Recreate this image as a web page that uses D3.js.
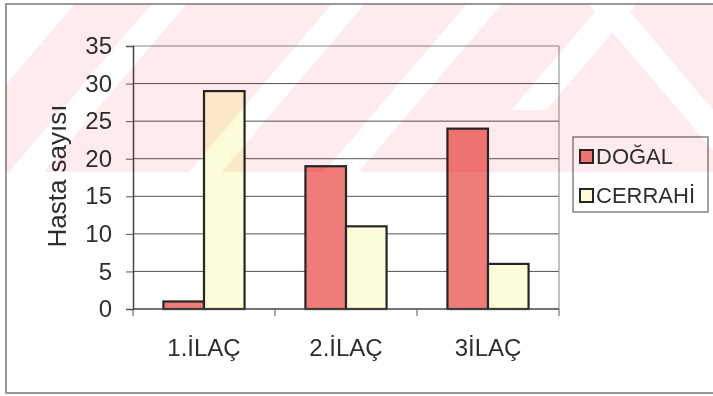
<!DOCTYPE html>
<html>
<head>
<meta charset="utf-8">
<script src="https://cdn.jsdelivr.net/npm/d3@7"></script>
<style>
  body { margin: 0; background: #fff; }
  svg { display: block; font-family: "Liberation Sans", Arial, sans-serif; }
  .wm { mix-blend-mode: multiply; }
</style>
</head>
<body>
<svg id="chart" width="713" height="396"></svg>
<script>
// chart data
const categories = ["1.İLAÇ", "2.İLAÇ", "3İLAÇ"]
const seriesNames = ["DOĞAL", "CERRAHİ"]
const dogal = [1, 19, 24]
const cerrahi = [29, 11, 6]
const yTicks = [0, 5, 10, 15, 20, 25, 30, 35]
const yTitle = "Hasta sayısı"

const colors = { "DOĞAL": "#ef7c79", "CERRAHİ": "#fcfcd8" }
const ink = "#2e2e2e"

const svg = d3.select("#chart")
const W = 713, H = 396
const plot = { left: 133, right: 559, top: 46, bottom: 309 }

// outer frame
svg.append("rect")
    .attr("x", 6).attr("y", 4)
    .attr("width", 730).attr("height", 389)
    .attr("fill", "#fff")
    .attr("stroke", "#777").attr("stroke-width", 1.5)

const x0 = d3.scaleBand().domain(categories).range([plot.left, plot.right]).padding(0)
const x1 = d3.scaleBand().domain(seriesNames).range([0, x0.bandwidth()])
    .paddingInner(0).paddingOuter(0.75)
const y = d3.scaleLinear().domain([0, 35]).range([plot.bottom, plot.top])

// gridlines
svg.append("g")
    .selectAll("line")
    .data(yTicks.filter(d => d > 0))
    .join("line")
    .attr("x1", plot.left).attr("x2", plot.right)
    .attr("y1", d => y(d)).attr("y2", d => y(d))
    .attr("stroke", d => d == 35 ? "#888" : "#555")
    .attr("stroke-width", 1)

// plot area right border
svg.append("line")
    .attr("x1", plot.right).attr("x2", plot.right)
    .attr("y1", plot.top).attr("y2", plot.bottom)
    .attr("stroke", "#888")

// bars
const rows = categories.map((c, i) => ({ cat: c, vals: [dogal[i], cerrahi[i]] }))
const groups = svg.append("g")
    .selectAll("g")
    .data(rows)
    .join("g")
    .attr("transform", d => "translate(" + x0(d.cat) + ",0)")

groups.selectAll("rect")
    .data(d => d.vals.map((v, j) => ({ key: seriesNames[j], v: v })))
    .join("rect")
    .attr("x", d => x1(d.key))
    .attr("width", x1.bandwidth())
    .attr("y", d => y(d.v))
    .attr("height", d => y(0) - y(d.v))
    .attr("fill", d => colors[d.key])
    .attr("stroke", "#262626")
    .attr("stroke-width", 2.2)

// y axis
const yAxis = svg.append("g")
    .attr("transform", "translate(" + plot.left + ",0)")
    .call(d3.axisLeft(y).tickValues(yTicks).tickSize(7).tickPadding(14))
yAxis.select(".domain").attr("stroke", "#444").attr("stroke-width", 1.5)
yAxis.selectAll(".tick line").attr("stroke", "#555")
yAxis.selectAll("text")
    .attr("fill", ink)
    .style("font-size", "24px")
    .style("font-family", "Liberation Sans, Arial, sans-serif")

// x axis
const xAxis = svg.append("g")
    .attr("transform", "translate(0," + plot.bottom + ")")
xAxis.append("line")
    .attr("x1", plot.left).attr("x2", plot.right)
    .attr("stroke", "#444").attr("stroke-width", 1.5)
xAxis.selectAll(".xt")
    .data(categories.map(c => x0(c)).concat([plot.right]))
    .join("line")
    .attr("x1", d => d).attr("x2", d => d)
    .attr("y1", 0).attr("y2", 7)
    .attr("stroke", "#555")
xAxis.selectAll(".xl")
    .data(categories)
    .join("text")
    .attr("x", d => x0(d) + x0.bandwidth() / 2)
    .attr("y", 47)
    .attr("text-anchor", "middle")
    .attr("fill", ink)
    .style("font-size", "24px")
    .text(d => d)

// y title
svg.append("text")
    .attr("transform", "translate(66,176) rotate(-90)")
    .attr("text-anchor", "middle")
    .attr("fill", ink)
    .style("font-size", "26px")
    .text(yTitle)

// legend
const legend = svg.append("g")
legend.append("rect")
    .attr("x", 573).attr("y", 137)
    .attr("width", 135).attr("height", 75)
    .attr("fill", "#fff")
    .attr("stroke", "#666").attr("stroke-width", 1.2)

const items = legend.selectAll(".item")
    .data(seriesNames)
    .join("g")
    .attr("transform", (d, i) => "translate(580," + (150 + i * 39) + ")")
items.append("rect")
    .attr("width", 13).attr("height", 13)
    .attr("fill", d => colors[d])
    .attr("stroke", "#262626").attr("stroke-width", 2)
items.append("text")
    .attr("x", 16).attr("y", 13.5)
    .attr("fill", ink)
    .style("font-size", "22px")
    .text(d => d)

// faint pink watermark from the scanned page, laid over everything
const k = 0.85, wmTop = 4, wmBot = 172
const slashBands = [[-200, 78], [155, 190], [335, 368], [470, 505]]
const defs = svg.append("defs")
const mask = defs.append("mask").attr("id", "wmMask")
mask.append("rect").attr("x", 0).attr("y", 0).attr("width", W).attr("height", H).attr("fill", "#fff")
slashBands.forEach(function (b) {
    mask.append("polygon")
        .attr("points", [[b[0], 0], [b[1], 0], [b[1] - k * wmBot, wmBot], [b[0] - k * wmBot, wmBot]].join(" "))
        .attr("fill", "#000")
})
mask.append("polygon")
    .attr("points", [[605, 0], [640, 0], [640 - k * 110, 110], [605 - k * 110, 110]].join(" "))
    .attr("fill", "#000")
mask.append("polygon")
    .attr("points", [[585, 0], [620, 0], [620 + k * wmBot, wmBot], [585 + k * wmBot, wmBot]].join(" "))
    .attr("fill", "#000")

svg.append("rect")
    .classed("wm", true)
    .attr("x", 6).attr("y", wmTop)
    .attr("width", W - 6).attr("height", wmBot - wmTop)
    .attr("fill", "rgb(254,235,238)")
    .attr("mask", "url(#wmMask)")
</script>
</body>
</html>
